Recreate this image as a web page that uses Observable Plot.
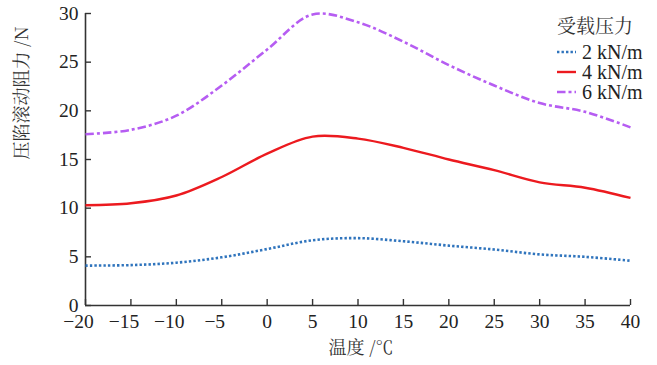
<!DOCTYPE html>
<html>
<head>
<meta charset="utf-8">
<script src="https://cdn.jsdelivr.net/npm/d3@7"></script>
<script src="https://cdn.jsdelivr.net/npm/@observablehq/plot@0.6"></script>
<style>
  html, body { margin: 0; padding: 0; background: #fff; }
  #wrap { position: relative; width: 657px; height: 365px; }
  #legend {
    position: absolute; left: 557px; top: 15px;
    font-family: "Liberation Serif", "Times New Roman", serif;
    font-size: 20px; color: #222;
  }
  #legend .title { font-family: "Noto Serif CJK SC", serif; font-size: 19px; line-height: 20.5px; height: 20.5px; margin-bottom: 6px; color: #333; }
  #legend .row { display: flex; align-items: center; height: 20px; line-height: 20px; }
  #legend svg { margin-right: 6px; }
</style>
</head>
<body>
<div id="wrap"></div>
<script>
// Temperature (°C) and rolling resistance (N) for each load level
const temperature = [-20, -15, -10, -5, 0, 5, 10, 15, 20, 25, 30, 35, 40];
const load2 = [4.1, 4.15, 4.4, 4.95, 5.8, 6.7, 6.92, 6.6, 6.15, 5.75, 5.25, 5.0, 4.6];
const load4 = [10.3, 10.5, 11.3, 13.2, 15.6, 17.35, 17.15, 16.2, 15.0, 13.9, 12.65, 12.1, 11.05];
const load6 = [17.6, 18.05, 19.5, 22.6, 26.3, 29.9, 29.1, 27.1, 24.7, 22.6, 20.8, 19.9, 18.3];

const seriesNames = ["2 kN/m", "4 kN/m", "6 kN/m"];
const xTicks = [-20, -15, -10, -5, 0, 5, 10, 15, 20, 25, 30, 35, 40];
const yTicks = [0, 5, 10, 15, 20, 25, 30];
const negTicks = xTicks.filter(d => d < 0);

const styles = [
  {stroke: "#2f74bd", strokeWidth: 2.6, strokeDasharray: "2.4,2.1"},
  {stroke: "#ec1a1f", strokeWidth: 2.4, strokeDasharray: null},
  {stroke: "#b65df2", strokeWidth: 2.6, strokeDasharray: "8.5,3,3,3"}
];

const rows = [load2, load4, load6].map((vals, i) =>
  vals.map((v, j) => ({series: seriesNames[i], t: temperature[j], v}))
);

const serif = "'Liberation Serif', 'Times New Roman', serif";
const cjk = "'Noto Serif CJK SC', serif";
const minus = d => d < 0 ? "\u2212" + Math.abs(d) : String(d);

const chart = Plot.plot({
  width: 657,
  height: 365,
  marginLeft: 85,
  marginRight: 27,
  marginTop: 13,
  marginBottom: 60,
  style: {fontFamily: serif, fontSize: "20px", color: "#222", background: "#fff"},
  x: {domain: [-20, 40]},
  y: {domain: [0, 30]},
  marks: [
    // inward ticks; negative labels are drawn separately so the minus sign hangs left
    Plot.axisX({ticks: xTicks, tickSize: -6, tickPadding: 15, label: null, fontFamily: serif, fontSize: 19.5,
      tickFormat: d => d < 0 ? "" : String(d), stroke: "#333", strokeWidth: 1.4}),
    Plot.axisX({ticks: negTicks, tickSize: 0, tickPadding: 9, label: null, fontFamily: serif, fontSize: 19.5,
      tickFormat: minus, dx: -7}),
    Plot.axisY({ticks: yTicks, tickSize: -6, tickPadding: 13, label: null, fontFamily: serif, fontSize: 19.5,
      stroke: "#333", strokeWidth: 1.4}),
    Plot.ruleX([-20], {stroke: "#333", strokeWidth: 1.6}),
    Plot.ruleY([0], {stroke: "#333", strokeWidth: 1.6}),
    ...rows.map((r, i) => Plot.line(r, {
      x: "t", y: "v", curve: "catmull-rom",
      stroke: styles[i].stroke, strokeWidth: styles[i].strokeWidth,
      strokeDasharray: styles[i].strokeDasharray, strokeLinecap: "butt"
    })),
    Plot.text(["压陷滚动阻力 /N"], {frameAnchor: "left", dx: -63, rotate: -90, fontFamily: cjk, fontSize: 18, fill: "#333"}),
    Plot.text(["温度 /℃"], {frameAnchor: "bottom", dy: 48, dx: 3, fontFamily: cjk, fontSize: 18, fill: "#333"})
  ]
});

const wrap = document.getElementById("wrap");
wrap.appendChild(chart);

// Legend
const legend = document.createElement("div");
legend.id = "legend";
let html = '<div class="title">受载压力</div>';
seriesNames.forEach((name, i) => {
  const s = styles[i];
  html += '<div class="row"><svg width="19" height="10"><line x1="0" x2="19" y1="5" y2="5" stroke="' + s.stroke +
    '" stroke-width="' + s.strokeWidth + '"' + (s.strokeDasharray ? ' stroke-dasharray="' + s.strokeDasharray + '"' : '') +
    '/></svg><span>' + name + '</span></div>';
});
legend.innerHTML = html;
wrap.appendChild(legend);
</script>
</body>
</html>
